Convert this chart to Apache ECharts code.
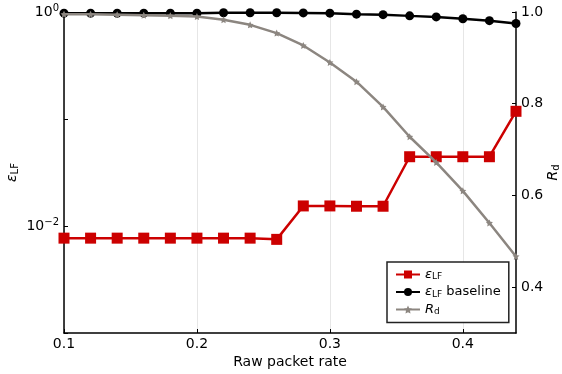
<!DOCTYPE html>
<html><head><meta charset="utf-8">
<script src="https://cdn.jsdelivr.net/npm/echarts@6/dist/echarts.min.js"></script>
<style>html,body{margin:0;padding:0;background:#fff}#c{width:562px;height:374px}</style>
</head><body><div id="c"></div>
<script>
var rates = [0.10,0.12,0.14,0.16,0.18,0.20,0.22,0.24,0.26,0.28,0.30,0.32,0.34,0.36,0.38,0.40,0.42,0.44];
var epsLF = [0.0077,0.0077,0.0077,0.0077,0.0077,0.0077,0.0077,0.0077,0.0075,0.0154,0.0154,0.0153,0.0153,0.0444,0.0444,0.0444,0.0444,0.118];
var epsBase = [0.975,0.975,0.975,0.975,0.975,0.975,0.985,0.985,0.985,0.98,0.975,0.955,0.945,0.92,0.90,0.865,0.83,0.78];
var rd = [0.995,0.995,0.994,0.993,0.992,0.990,0.983,0.972,0.954,0.927,0.890,0.848,0.793,0.728,0.672,0.610,0.540,0.467];
var xTicks = [0.1,0.2,0.3,0.4];
var rTicks = [0.4,0.6,0.8,1.0];

function pairs(ys){ return rates.map(function(x,i){return [x, ys[i]];}); }
var FONT = 'DejaVu Sans';
var chart = echarts.init(document.getElementById('c'), null, {renderer:'canvas'});
var rich = {
  i:{fontFamily:FONT,fontStyle:'italic',fontSize:14,color:'#000'},
  s:{fontFamily:FONT,fontSize:10,color:'#000',padding:[6,0,0,0]},
  t:{fontFamily:FONT,fontSize:14,color:'#000'},
  b:{fontFamily:FONT,fontSize:14,color:'#000'},
  p:{fontFamily:FONT,fontSize:10,color:'#000',padding:[0,0,8,0]}
};
var lrich = {
  i:{fontFamily:FONT,fontStyle:'italic',fontSize:13,color:'#000'},
  s:{fontFamily:FONT,fontSize:9,color:'#000',padding:[5,0,0,0]},
  t:{fontFamily:FONT,fontSize:13,color:'#000'}
};
chart.setOption({
  animation:false,
  grid:{left:64,right:46,top:12,bottom:41,containLabel:false,outerBoundsMode:'none'},
  xAxis:{type:'value',min:0.1,max:0.44,
    name:'Raw packet rate',nameLocation:'middle',nameGap:22,nameMoveOverlap:false,
    nameTextStyle:{fontFamily:FONT,fontSize:14,color:'#000'},
    axisLine:{lineStyle:{color:'#000',width:1.5}},
    axisTick:{inside:true,length:4,customValues:xTicks,lineStyle:{color:'#000'}},
    axisLabel:{customValues:xTicks,fontFamily:FONT,fontSize:14,color:'#000',margin:4,
      formatter:function(v){return v.toFixed(1);}},
    splitLine:{show:true,lineStyle:{color:'#e6e6e6',width:1}}
  },
  yAxis:[{type:'log',logBase:10,min:0.001,max:1,
      name:'{i|ε}{s|LF}',nameLocation:'middle',nameGap:44,nameRotate:90,nameMoveOverlap:false,
      nameTextStyle:{rich:rich},
      axisLine:{show:true,lineStyle:{color:'#000',width:1.5}},
      axisTick:{show:true,inside:true,length:4,lineStyle:{color:'#000'}},
      axisLabel:{fontFamily:FONT,fontSize:14,color:'#000',margin:5,rich:rich,
        formatter:function(v){
          if (Math.abs(v-1)<1e-9) return '{b|10}{p|0}';
          if (Math.abs(v-0.01)<1e-9) return '{b|10}{p|−2}';
          return '';
        }},
      splitLine:{show:false},minorTick:{show:false}
    },{type:'value',min:0.3,max:1.0,position:'right',
      name:'{i|R}{s|d}',nameLocation:'middle',nameGap:29,nameRotate:90,nameMoveOverlap:false,
      nameTextStyle:{rich:rich},
      axisLine:{show:true,lineStyle:{color:'#000',width:1.5}},
      axisTick:{show:true,inside:true,length:4,customValues:rTicks,lineStyle:{color:'#000'}},
      axisLabel:{customValues:rTicks,fontFamily:FONT,fontSize:14,color:'#000',margin:5,
        formatter:function(v){return v.toFixed(1);}},
      splitLine:{show:false}
  }],
  legend:{left:387,top:262,orient:'vertical',itemWidth:24,itemHeight:10,itemGap:4,
    padding:[6,8,6,8],borderColor:'#222',borderWidth:1.5,borderRadius:0,backgroundColor:'#fff',
    textStyle:{fontFamily:FONT,fontSize:13,color:'#000',rich:lrich},
    formatter:function(n){
      if(n==='eps') return '{i|ε}{s|LF}';
      if(n==='base') return '{i|ε}{s|LF}{t| baseline}';
      return '{i|R}{s|d}';
    },
    data:['eps','base','rd']},
  series:[
    {name:'eps',type:'line',yAxisIndex:0,data:pairs(epsLF),color:'#cc0000',
     symbol:'rect',symbolSize:11,lineStyle:{width:2.5,color:'#cc0000'},itemStyle:{color:'#cc0000'},z:2},
    {name:'base',type:'line',yAxisIndex:0,data:pairs(epsBase),color:'#000',
     symbol:'circle',symbolSize:9,lineStyle:{width:2.5,color:'#000'},itemStyle:{color:'#000'},z:3},
    {name:'rd',type:'line',yAxisIndex:1,data:pairs(rd),color:'#8c8680',
     symbol:'path://M0,-10 L2.9,-4 L9.5,-3.1 L4.7,1.5 L5.9,8.1 L0,5 L-5.9,8.1 L-4.7,1.5 L-9.5,-3.1 L-2.9,-4 Z',
     symbolSize:7,lineStyle:{width:2.5,color:'#8c8680'},itemStyle:{color:'#8c8680'},z:4}
  ]
});
</script></body></html>
